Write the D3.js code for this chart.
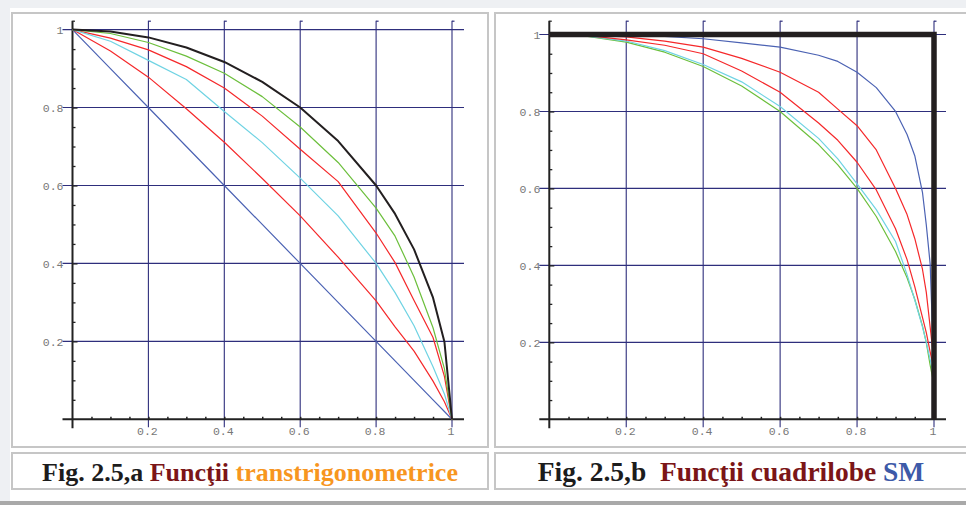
<!DOCTYPE html>
<html><head><meta charset="utf-8">
<script src="https://cdn.jsdelivr.net/npm/d3@7"></script>
<style>html,body{margin:0;padding:0;background:#fff;}svg{display:block;}</style>
</head><body>
<script>
// ---------- DATA ----------
const gridTicks = [0.2, 0.4, 0.6, 0.8, 1];
const tickLabels = ["0.2", "0.4", "0.6", "0.8", "1"];
const minorTicks = d3.range(1, 20).map(i => i / 20);

// Fig 2.5,a  transtrigonometric functions
const leftX      = [0, 0.1, 0.2, 0.3, 0.4, 0.5, 0.6, 0.7, 0.8, 0.85, 0.9, 0.95, 0.98, 1];
const leftBlack  = [1, 0.995, 0.98, 0.954, 0.917, 0.866, 0.8, 0.714, 0.6, 0.527, 0.436, 0.312, 0.199, 0];
const leftGreen  = [1, 0.99, 0.967, 0.932, 0.888, 0.828, 0.75, 0.659, 0.542, 0.47, 0.365, 0.235, 0.13, 0];
const leftCyan   = [1, 0.97, 0.921, 0.872, 0.79, 0.71, 0.619, 0.522, 0.4, 0.325, 0.24, 0.135, 0.065, 0];
const leftRed1   = [1, 0.978, 0.948, 0.905, 0.85, 0.778, 0.693, 0.61, 0.478, 0.402, 0.305, 0.21, 0.11, 0];
const leftRed2   = [1, 0.945, 0.878, 0.797, 0.711, 0.618, 0.522, 0.416, 0.304, 0.237, 0.175, 0.098, 0.045, 0];
const leftBlue   = [1, 0.9, 0.8, 0.7, 0.6, 0.5, 0.4, 0.3, 0.2, 0.15, 0.1, 0.05, 0.02, 0];

// Fig 2.5,b  quadrilobe functions
const rightX     = [0, 0.1, 0.2, 0.3, 0.4, 0.5, 0.6, 0.7, 0.75, 0.8, 0.85, 0.9, 0.93, 0.95, 0.97, 0.98, 0.99, 1];
const rightGreen = [1, 0.995, 0.98, 0.954, 0.917, 0.866, 0.8, 0.714, 0.661, 0.6, 0.527, 0.436, 0.368, 0.312, 0.243, 0.199, 0.141, 0.09];
const rightCyan  = [1, 0.996, 0.983, 0.958, 0.922, 0.877, 0.813, 0.73, 0.677, 0.612, 0.545, 0.462, 0.376, 0.31, 0.24, 0.2, 0.155, 0.11];
const rightRed2  = [1, 0.997, 0.986, 0.972, 0.95, 0.905, 0.85, 0.77, 0.725, 0.668, 0.596, 0.495, 0.415, 0.345, 0.265, 0.225, 0.175, 0.13];
const rightRed1  = [1, 0.999, 0.994, 0.983, 0.967, 0.938, 0.902, 0.85, 0.806, 0.763, 0.7, 0.6, 0.532, 0.47, 0.39, 0.33, 0.24, 0.15];
const rightBlue  = [1, 1, 0.998, 0.995, 0.989, 0.978, 0.967, 0.946, 0.93, 0.902, 0.862, 0.8, 0.74, 0.685, 0.59, 0.505, 0.404, 0.12];
const squareX    = [0, 1, 1];
const squareY    = [1, 1, 0];

const C = {black:"#231f20", green:"#6cbf3c", cyan:"#6fd3e3", red:"#f5282a", blue:"#4b62b3", grid:"#2e2e7c"};

// ---------- SVG ----------
const W = 966, H = 505;
const svg = d3.select("body").append("svg").attr("width", W).attr("height", H);
svg.append("rect").attr("width", W).attr("height", H).attr("fill", "#fff");
svg.append("rect").attr("width", W).attr("height", 8).attr("fill", "#eef0f3");
svg.append("rect").attr("width", 10).attr("height", H).attr("fill", "#eef0f3");
svg.append("rect").attr("y", 501).attr("width", W).attr("height", 4).attr("fill", "#a9a9a9");

// frames
const frames = [[12,13,476,434],[12,453,476,36],[495,13,480,434],[495,453,480,36]];
svg.selectAll("rect.frame").data(frames).join("rect").attr("class","frame")
  .attr("x", d=>d[0]).attr("y", d=>d[1]).attr("width", d=>d[2]).attr("height", d=>d[3])
  .attr("fill","none").attr("stroke","#c6c6c6").attr("stroke-width",2);

function panel(cfg) {
  const g = svg.append("g");
  const x = d3.scaleLinear().domain([0,1]).range([cfg.x0, cfg.x1]);
  const y = d3.scaleLinear().domain([0,1]).range([cfg.y0, cfg.y1]);
  const top = 20.7;
  // horizontal grid
  g.selectAll("line.hg").data(gridTicks).join("line").attr("class","hg")
    .attr("x1", x(0)-10).attr("x2", x(1)+12).attr("y1", d=>y(d)).attr("y2", d=>y(d))
    .attr("stroke", C.grid).attr("stroke-width", 1.1);
  // vertical grid
  g.selectAll("line.vg").data(gridTicks).join("line").attr("class","vg")
    .attr("x1", d=>x(d)).attr("x2", d=>x(d)).attr("y1", top).attr("y2", y(0)+8)
    .attr("stroke", C.grid).attr("stroke-width", 1.1);
  // hooks on top
  g.selectAll("line.hook").data([0].concat(gridTicks)).join("line").attr("class","hook")
    .attr("x1", d=>x(d)).attr("x2", d=>x(d)+2.5).attr("y1", top+0.5).attr("y2", top+0.5)
    .attr("stroke", d=> d===0 ? "#222" : C.grid).attr("stroke-width", 1.2);

  // minor ticks with d3 axes
  const yt = g.append("g").attr("transform", `translate(${x(0)},0)`)
    .call(d3.axisRight(y).tickValues(minorTicks).tickSize(3).tickSizeOuter(0).tickFormat(""));
  yt.select(".domain").remove();
  yt.selectAll("line").attr("stroke","#222").attr("stroke-width",1.3)
    .attr("x2", d => (Math.round(d*20)%4===0) ? 5 : 3);
  const xt = g.append("g").attr("transform", `translate(0,${y(0)})`)
    .call(d3.axisTop(x).tickValues(minorTicks).tickSize(2.5).tickSizeOuter(0).tickFormat(""));
  xt.select(".domain").remove();
  xt.selectAll("line").attr("stroke","#222").attr("stroke-width",1.5);

  // labels
  const yl = g.append("g").attr("transform", `translate(${x(0)},0)`)
    .call(d3.axisLeft(y).tickValues(gridTicks).tickSize(0).tickPadding(9).tickFormat((d,i)=>tickLabels[i]));
  yl.select(".domain").remove();
  yl.selectAll("text").attr("font-family","Liberation Mono, DejaVu Sans Mono, monospace")
    .attr("font-size","11.5px").attr("fill","#777");
  const xl = g.append("g").attr("transform", `translate(-1.5,${y(0)})`)
    .call(d3.axisBottom(x).tickValues(gridTicks).tickSize(0).tickPadding(8).tickFormat((d,i)=>tickLabels[i]));
  xl.select(".domain").remove();
  xl.selectAll("text").attr("font-family","Liberation Mono, DejaVu Sans Mono, monospace")
    .attr("font-size","11.5px").attr("fill","#777");

  // axis lines
  g.append("line").attr("x1", x(0)).attr("x2", x(0)).attr("y1", top).attr("y2", y(0)+9)
    .attr("stroke","#222").attr("stroke-width",2);
  g.append("line").attr("x1", x(0)-10).attr("x2", x(1)+12).attr("y1", y(0)).attr("y2", y(0))
    .attr("stroke","#222").attr("stroke-width",2);

  // curves
  const line = d3.line().x(d=>x(d[0])).y(d=>y(d[1]));
  cfg.series.forEach(s => {
    g.append("path").attr("d", line(s.xs.map((v,i)=>[v, s.ys[i]])))
      .attr("fill","none").attr("stroke", s.color).attr("stroke-width", s.w || 1.2)
      .attr("stroke-linejoin", s.join || "round");
  });
  return {x, y};
}

panel({x0:72.5, x1:452, y0:419.3, y1:29.6, series:[
  {xs:leftX, ys:leftBlue, color:C.blue},
  {xs:leftX, ys:leftRed2, color:C.red},
  {xs:leftX, ys:leftRed1, color:C.red},
  {xs:leftX, ys:leftCyan, color:C.cyan},
  {xs:leftX, ys:leftGreen, color:C.green},
  {xs:leftX, ys:leftBlack, color:C.black, w:2}
]});

panel({x0:549.3, x1:934, y0:419.3, y1:34.5, series:[
  {xs:rightX, ys:rightGreen, color:C.green},
  {xs:rightX, ys:rightCyan, color:C.cyan},
  {xs:rightX, ys:rightRed2, color:C.red},
  {xs:rightX, ys:rightRed1, color:C.red},
  {xs:rightX, ys:rightBlue, color:C.blue},
  {xs:squareX, ys:squareY, color:C.black, w:5.5, join:"miter"}
]});

// captions
function caption(cx, size, parts) {
  const t = svg.append("text").attr("x", cx).attr("y", 481).attr("text-anchor","middle")
    .attr("font-family","Liberation Serif, Times New Roman, serif").attr("font-weight","bold")
    .attr("font-size", size + "px").attr("xml:space","preserve").style("white-space","pre");
  parts.forEach(p => t.append("tspan").attr("fill", p[1]).text(p[0]));
}
caption(250, 26, [["Fig. 2.5,a ", "#1c1c1c"], ["Funcţii ", "#7b1517"], ["transtrigonometrice", "#f7961f"]]);
caption(731, 27.5, [["Fig. 2.5,b  ", "#1c1c1c"], ["Funcţii cuadrilobe ", "#7b1517"], ["SM", "#3d5aa8"]]);
</script>
</body></html>
